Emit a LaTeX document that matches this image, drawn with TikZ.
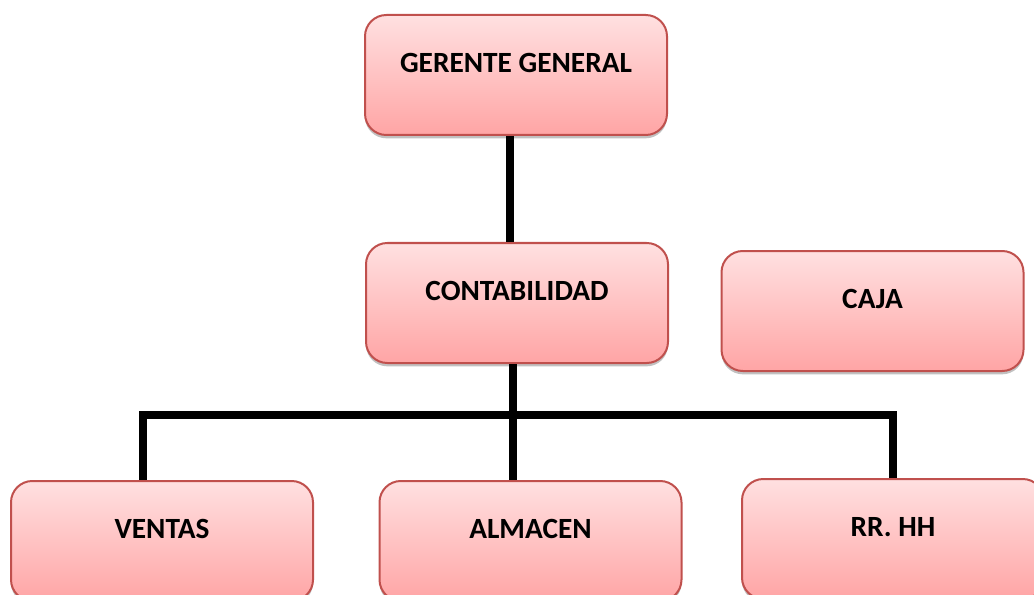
\documentclass[tikz,border=0pt]{standalone}
\usepackage{fontspec}
\setmainfont{Carlito}
\usetikzlibrary{shadows,calc}
\definecolor{boxtop}{HTML}{FFE0E1}
\definecolor{boxbot}{HTML}{FFA5A5}
\definecolor{boxline}{HTML}{C0504D}
\tikzset{
  orgbox/.style={draw=boxline, line width=1.5pt, rounded corners=16pt,
    top color=boxtop, bottom color=boxbot,
    minimum width=226.5pt, minimum height=90pt, inner sep=0pt,
    drop shadow={opacity=0.35, shadow xshift=0pt, shadow yshift=-2.5pt, fill=black!70}},
  boxtext/.style={font=\bfseries\fontsize{22}{26}\selectfont, yshift=9pt},
  conn/.style={line width=6pt, black, line cap=butt, line join=miter}
}
\begin{document}
\begin{tikzpicture}[x=0.75pt,y=-0.75pt]
\useasboundingbox (0,0) rectangle (1034,595);
\clip (0,0) rectangle (1034,595);
\coordinate (bl) at (143,415);
\coordinate (bm) at (513,415);
\coordinate (br) at (893,415);
\coordinate (tm) at (510,200);
\node[orgbox, label={[boxtext]center:GERENTE GENERAL}] (ger) at (516,75) {};
\node[orgbox, label={[boxtext]center:CONTABILIDAD}] (con) at (517,303) {};
\draw[conn] (ger.south -| tm) -- (con.north -| tm);
\node[orgbox, label={[boxtext]center:CAJA}] (caja) at (872.5,311) {};
\coordinate (vtop) at (162,481);
\draw[conn] (con.south -| bm) -- (bm |- vtop);
\draw[conn] (bl |- vtop) -- (bl) -- (br) -- (br |- 0,479);
\node[orgbox, label={[boxtext]center:VENTAS}] (ven) at (162,541) {};
\node[orgbox, label={[boxtext]center:ALMACEN}] (alm) at (530.5,541) {};
\node[orgbox, label={[boxtext]center:RR. HH}] (rr) at (893,539) {};
\end{tikzpicture}
\end{document}
